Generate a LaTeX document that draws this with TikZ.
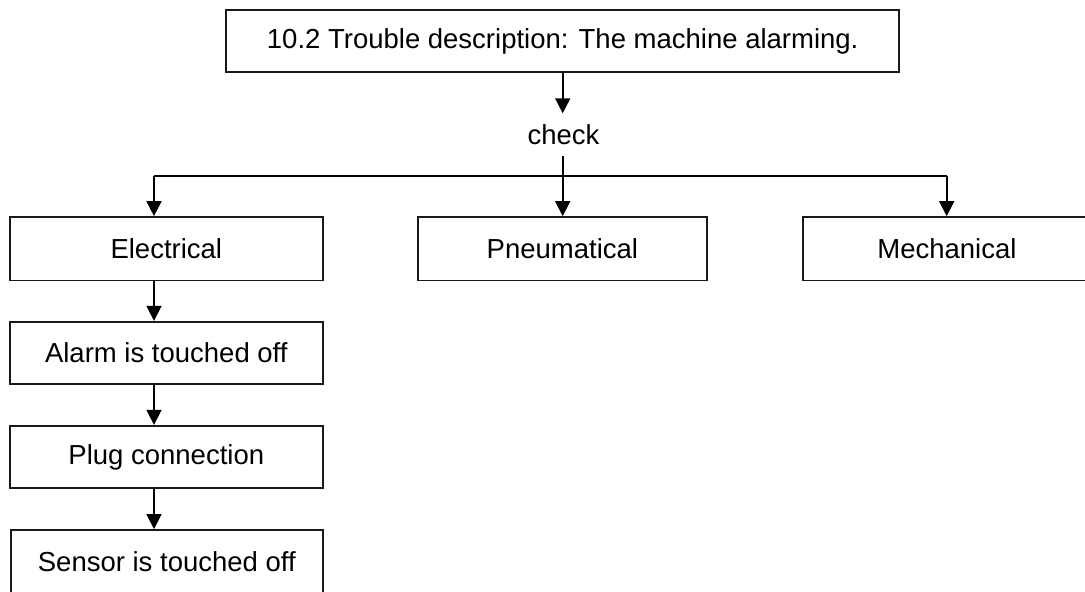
\documentclass[tikz,border=0pt]{standalone}
\usepackage{fontspec}
\setmainfont{Liberation Sans}
\usetikzlibrary{arrows.meta}
\begin{document}
\begin{tikzpicture}[x=1pt,y=-1pt,
  box/.style={draw=black!90, line width=1.8pt, rectangle, inner sep=0pt, minimum height=62.5pt, align=center, font=\fontsize{27.5}{33}\selectfont},
  lbl/.style={inner sep=0pt, minimum height=42pt, font=\fontsize{27.5}{33}\selectfont},
  conn/.style={draw=black, line width=1.6pt},
  arr/.style={conn, -{Triangle[length=15pt,width=15pt]}}]
\useasboundingbox (0,0) rectangle (1085,592);
\clip (0,0) rectangle (1085,592);
\node[box, minimum width=672.7pt] (top) at (562.7,41) {10.2 Trouble description: The machine alarming.};
\node[lbl] (check) at (563.5,134.5) {check};
\node[box, minimum width=312.7pt, minimum height=63.5pt] (elec) at (166.3,248.8) {Electrical};
\node[box, minimum width=288.7pt, minimum height=63.5pt] (pneu) at (562.4,248.8) {Pneumatical};
\node[box, minimum width=288.3pt, minimum height=63.5pt] (mech) at (946.9,248.8) {Mechanical};
\node[box, minimum width=312.7pt] (alarm) at (166.3,353) {Alarm is touched off};
\node[box, minimum width=312.7pt] (plug) at (166.3,457) {Plug connection};
\node[box, minimum width=311.7pt, minimum height=64pt] (sensor) at (166.8,562) {Sensor is touched off};
\coordinate (hl) at (154,176);
\coordinate (hr) at (946.7,176);
\coordinate (cx) at (562.7,0);
\draw[arr] (top.south -| cx) -- (check.north -| cx);
\draw[conn] (hl) -- (hr);
\draw[arr] (check.south -| cx) -- (pneu.north -| cx);
\draw[arr] (hl) -- (hl |- elec.north);
\draw[arr] (hr) -- (hr |- mech.north);
\draw[arr] (elec.south -| hl) -- (alarm.north -| hl);
\draw[arr] (alarm.south -| hl) -- (plug.north -| hl);
\draw[arr] (plug.south -| hl) -- (sensor.north -| hl);
\end{tikzpicture}
\end{document}
